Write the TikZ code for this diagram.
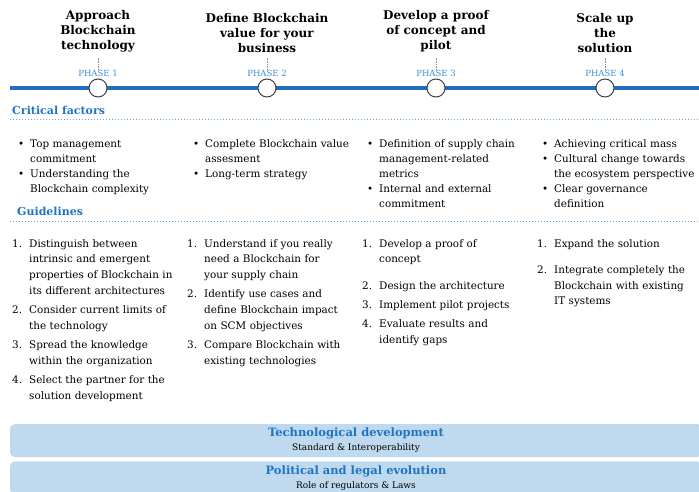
\documentclass[tikz,border=0pt]{standalone}
\usepackage{fontspec}
\setmainfont{DejaVu Serif}
\usetikzlibrary{positioning}

\definecolor{lineblue}{HTML}{1F6DBF}
\definecolor{phaseblue}{HTML}{3A8DD8}
\definecolor{headblue}{HTML}{1F74C4}
\definecolor{dotblue}{HTML}{5BA7E8}
\definecolor{barfill}{HTML}{BFD9EE}

% list items with a hanging indent
\newcommand{\bitem}[1]{\par\noindent\hangindent=12pt\hangafter=1\makebox[12pt][l]{\textbullet}#1\par}
\newcommand{\nitem}[2]{\par\noindent\hangindent=17pt\hangafter=1\makebox[17pt][l]{#1.}#2\par\vspace{3.5pt}}

\begin{document}
\begin{tikzpicture}[x=1pt, y=1pt,
    every node/.style={inner sep=0pt},
    phase/.style={draw=black!75, fill=white, circle, line width=1pt, minimum size=18pt},
    phaselabel/.style={font=\fontsize{8.5}{10}\selectfont, text=phaseblue},
    title/.style={align=center, font=\fontsize{12}{15}\selectfont\bfseries},
    heading/.style={font=\fontsize{11}{13}\selectfont\bfseries, text=headblue},
    critlist/.style={text width=170pt, align=left, font=\fontsize{10.4}{15}\selectfont, anchor=north west},
    guidelist/.style={text width=170pt, align=left, font=\fontsize{10.4}{15.8}\selectfont, anchor=north west},
    bar/.style={fill=barfill, rounded corners=5pt, minimum width=692pt, minimum height=33pt, align=center, font=\fontsize{11.5}{14}\selectfont}]
    \clip (0,0) rectangle (699,-491);

    % Timeline
    \coordinate (tl-a) at (10,-88);
    \coordinate (tl-b) at (699,-88);
    \draw[lineblue, line width=3.5pt] (tl-a) -- (tl-b);

    \node[phase] (c1) at (98,-88) {};
    \node[phase] (c2) at (267,-88) {};
    \node[phase] (c3) at (436,-88) {};
    \node[phase] (c4) at (605,-88) {};

    \node[phaselabel, above=2pt of c1] (p1) {PHASE 1};
    \node[phaselabel, above=2pt of c2] (p2) {PHASE 2};
    \node[phaselabel, above=2pt of c3] (p3) {PHASE 3};
    \node[phaselabel, above=2pt of c4] (p4) {PHASE 4};

    \node[title, above=17pt of p1] (t1) {Approach\\Blockchain\\technology};
    \node[title, above=17pt of p2] (t2) {Define Blockchain\\value for your\\business};
    \node[title, above=17pt of p3] (t3) {Develop a proof\\of concept and\\pilot};
    \node[title, above=17pt of p4] (t4) {Scale up\\the\\solution};

    \draw[black!45, densely dotted, line width=0.6pt] (t1.south) ++(0,-5pt) -- (p1.north);
    \draw[black!45, densely dotted, line width=0.6pt] (t2.south) ++(0,-5pt) -- (p2.north);
    \draw[black!45, densely dotted, line width=0.6pt] (t3.south) ++(0,-5pt) -- (p3.north);
    \draw[black!45, densely dotted, line width=0.6pt] (t4.south) ++(0,-5pt) -- (p4.north);

    % Critical factors
    \node[heading, anchor=base west] (crit) at (12,-114) {Critical factors};
    \coordinate (d1a) at (10,-119);
    \coordinate (d1b) at (699,-119);
    \draw[dotblue, dotted, line width=1pt] (d1a) -- (d1b);

    \node[critlist] (cf1) at (18,-132) {%
      \bitem{Top management\newline commitment}
      \bitem{Understanding the\newline Blockchain complexity}};
    \node[critlist] (cf2) at (193,-132) {%
      \bitem{Complete Blockchain value\newline assesment}
      \bitem{Long-term strategy}};
    \node[critlist] (cf3) at (367,-132) {%
      \bitem{Definition of supply chain\newline management-related\newline metrics}
      \bitem{Internal and external\newline commitment}};
    \node[critlist] (cf4) at (542,-132) {%
      \bitem{Achieving critical mass}
      \bitem{Cultural change towards\newline the ecosystem perspective}
      \bitem{Clear governance\newline definition}};

    % Guidelines
    \node[heading, anchor=base west] (guide) at (17,-215) {Guidelines};
    \coordinate (d2a) at (10,-221);
    \coordinate (d2b) at (699,-221);
    \draw[dotblue, dotted, line width=1pt] (d2a) -- (d2b);

    \node[guidelist] (gl1) at (12,-231) {%
      \nitem{1}{Distinguish between\newline intrinsic and emergent\newline properties of Blockchain in\newline its different architectures}
      \nitem{2}{Consider current limits of\newline the technology}
      \nitem{3}{Spread the knowledge\newline within the organization}
      \nitem{4}{Select the partner for the\newline solution development}};
    \node[guidelist] (gl2) at (187,-231) {%
      \nitem{1}{Understand if you really\newline need a Blockchain for\newline your supply chain}
      \nitem{2}{Identify use cases and\newline define Blockchain impact\newline on SCM objectives}
      \nitem{3}{Compare Blockchain with\newline existing technologies}};
    \node[guidelist] (gl3) at (362,-231) {%
      \nitem{1}{Develop a proof of\newline concept}\vspace{7pt}
      \nitem{2}{Design the architecture}
      \nitem{3}{Implement pilot projects}
      \nitem{4}{Evaluate results and\newline identify gaps}};
    \node[guidelist] (gl4) at (537,-231) {%
      \nitem{1}{Expand the solution}\vspace{7pt}
      \nitem{2}{Integrate completely the\newline Blockchain with existing\newline IT systems}};

    % Bottom bars
    \node[bar] (techbar) at (356,-440.5) {\textcolor{headblue}{\textbf{Technological development}}\\{\fontsize{9}{10}\selectfont Standard \& Interoperability}};
    \node[bar, below=4pt of techbar] (polbar) {\textcolor{headblue}{\textbf{Political and legal evolution}}\\{\fontsize{9}{10}\selectfont Role of regulators \& Laws}};
\end{tikzpicture}
\end{document}
